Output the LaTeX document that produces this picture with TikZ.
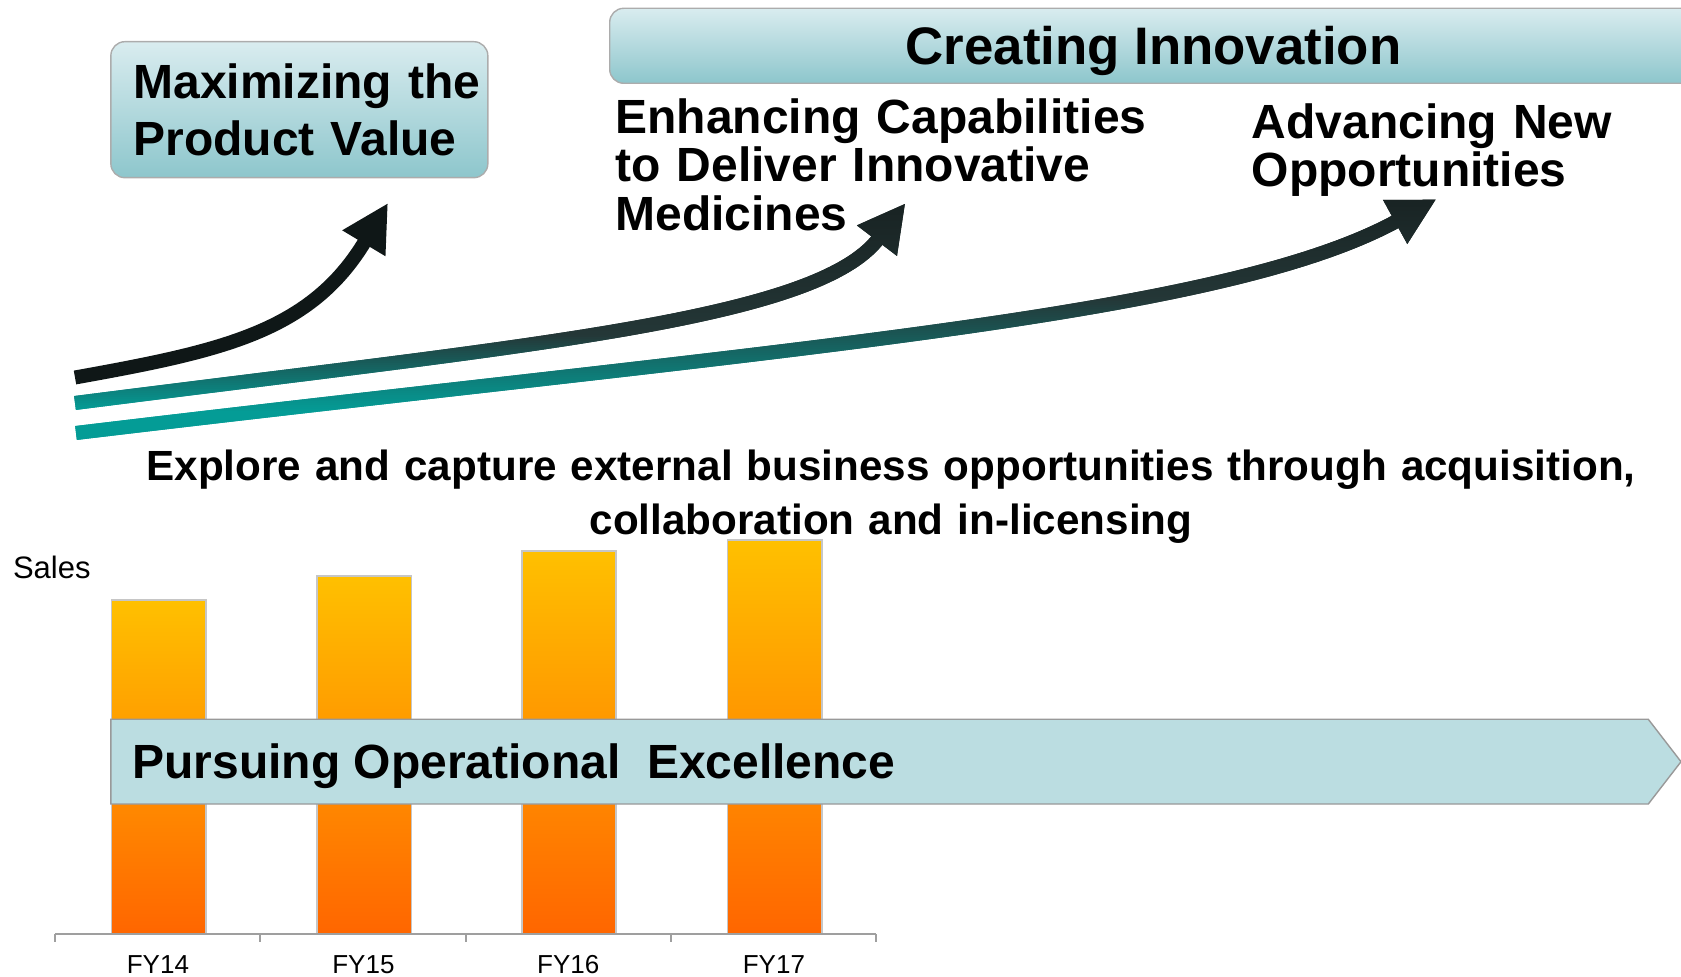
\documentclass[tikz,border=0pt]{standalone}
\usepackage{fontspec}
\setmainfont{Liberation Sans}
\usetikzlibrary{arrows.meta}
\definecolor{boxtop}{HTML}{D9ECEF}
\definecolor{boxbot}{HTML}{8DC6CC}
\definecolor{barlight}{HTML}{FFC000}
\definecolor{bardark}{HTML}{FF6600}
\definecolor{opfill}{HTML}{BBDDE1}
\definecolor{arrowink}{HTML}{0F1717}
\definecolor{arrowtip}{HTML}{182222}
\definecolor{arrowmid}{HTML}{243737}
\definecolor{arrowteal}{HTML}{049C96}

\begin{document}
\begin{tikzpicture}[x=0.5pt, y=-0.5pt,
    bigtext/.style={font=\bfseries\fontsize{24}{24.2}\selectfont, inner sep=0pt},
    valuebox/.style={draw=gray!65, line width=0.7pt, rounded corners=7pt, top color=boxtop, bottom color=boxbot},
    sweep/.style={line width=7pt, -{Triangle[length=23.5pt, width=23.5pt]}},
    salesbar/.style={draw=gray!45, line width=0.8pt, top color=barlight, bottom color=bardark, inner sep=0pt}]
  \useasboundingbox (0,0) rectangle (1681,977);

  \coordinate (s1) at (75,377.5);   \coordinate (c11) at (222.6,351);
  \coordinate (c12) at (310.8,331.7); \coordinate (t1) at (388,203);
  \coordinate (s2) at (75,403);     \coordinate (c21) at (525,345.4);
  \coordinate (c22) at (816,320.6); \coordinate (t2) at (905.4,203.3);
  \coordinate (s3) at (76,433);     \coordinate (c31) at (776,349);
  \coordinate (c32) at (1221.3,317.5); \coordinate (t3) at (1436.3,199.3);

  \draw[sweep, draw=arrowink] (s1) .. controls (c11) and (c12) .. (t1);
  \foreach \yy in {192,194,...,414} {
    \pgfmathsetmacro\pc{max(0,min(100,(\yy+1-336)/75*100))}
    \pgfmathsetmacro\qc{max(0,min(100,(\yy+1-200)/136*100))}
    \begin{scope}
      \clip (60,\yy) rectangle (1460,\yy+3);
      \draw[sweep, draw=arrowteal!\pc!arrowmid!\qc!arrowtip] (s2) .. controls (c21) and (c22) .. (t2);
    \end{scope}
  }
  \foreach \yy in {188,190,...,446} {
    \pgfmathsetmacro\pc{max(0,min(100,(\yy+1-300)/113*100))}
    \pgfmathsetmacro\qc{max(0,min(100,(\yy+1-195)/105*100))}
    \begin{scope}
      \clip (60,\yy) rectangle (1460,\yy+3);
      \draw[sweep, draw=arrowteal!\pc!arrowmid!\qc!arrowtip] (s3) .. controls (c31) and (c32) .. (t3);
    \end{scope}
  }

  \node[valuebox, minimum width=188.5pt, minimum height=68pt, text width=165.75pt, align=left,
        font=\bfseries\fontsize{24}{28.7}\selectfont] (valuebox) at (299.35,109.7) {Maximizing~the\\Product~Value};
  \node[valuebox, minimum width=543.9pt, minimum height=37.5pt, text height=19pt, text depth=0pt,
        font=\bfseries\fontsize{26.4}{30}\selectfont] (innobar) at (1153.6,45.8) {Creating Innovation};
  \node[bigtext, text width=280pt, align=left, anchor=base west] (enhance) at (615.2,133.3)
    {Enhancing Capabilities\\to Deliver Innovative\\Medicines};
  \node[bigtext, text width=200pt, align=left, anchor=base west] (advance) at (1251.5,138.3)
    {Advancing New\\Opportunities};
  \node[font=\bfseries\fontsize{21.1}{26.75}\selectfont, text width=780pt, align=center, anchor=base, inner sep=0pt]
    (explore) at (891,480.7) {Explore and capture external business opportunities through acquisition,\\collaboration and in-licensing};

  \node[font=\fontsize{15.5}{18}\selectfont, anchor=base west, inner sep=0pt] (sales) at (12.6,578.3) {Sales};
  \foreach \yr/\xl/\yt in {14/110.8/601, 15/316.3/576.7, 16/521.2/551.7, 17/726.8/541} {
    \node[salesbar, anchor=south west, minimum width=47.1pt, minimum height={(934.3-\yt)*0.5pt}] (bar\yr) at (\xl,934.3) {};
    \node[font=\fontsize{13}{15}\selectfont, anchor=base, inner sep=0pt] (fy\yr) at (\xl+47.1,973) {FY\yr};
  }

  \draw[draw=gray!80, line width=0.7pt, fill=opfill] (110.8,719.3) -- (1648.3,719.3) -- (1681,761.7) -- (1648.3,804) -- (110.8,804) -- cycle;
  \node[bigtext, anchor=base west] (optext) at (132,778.3) {Pursuing Operational\ \ Excellence};

  \draw[gray!75, line width=1pt] (55,934.3) -- (876,934.3);
  \foreach \tx in {55,260,465.6,670.5,876}
    \draw[gray!75, line width=1pt] (\tx,934.3) -- (\tx,941.7);
\end{tikzpicture}
\end{document}
